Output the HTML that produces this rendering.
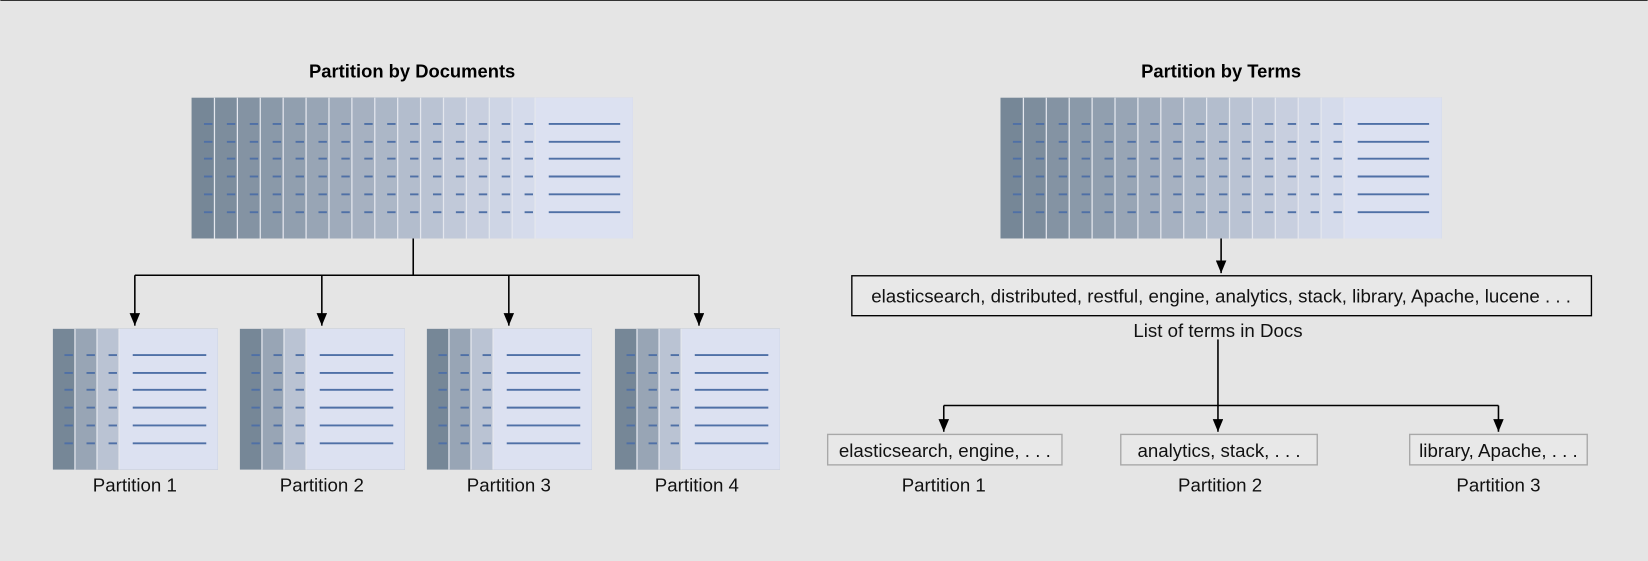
<!DOCTYPE html>
<html><head><meta charset="utf-8"><style>
html,body{margin:0;padding:0;background:#e5e5e5;}
svg{display:block;font-family:"Liberation Sans",Arial,sans-serif;}
</style></head><body>
<svg id="s" width="1648" height="561" viewBox="0 0 1568 534" xmlns="http://www.w3.org/2000/svg">
<defs>
<marker id="ad" markerWidth="10" markerHeight="12" refX="5" refY="12" orient="0" markerUnits="userSpaceOnUse" viewBox="0 0 10 12"><path d="M0,0 L10,0 L5,12 z" fill="#000"/></marker></defs>
<rect x="0" y="0" width="1568" height="534" fill="#e5e5e5"/>
<line x1="0" y1="0.5" x2="1568" y2="0.5" stroke="#333" stroke-width="1"/>
<g id="g"></g>
<text x="392" y="74" text-anchor="middle" font-size="17.5" font-weight="bold" fill="#000">Partition by Documents</text>
<text x="1162" y="74" text-anchor="middle" font-size="17.5" font-weight="bold" fill="#000">Partition by Terms</text>
<g stroke="#000" stroke-width="1.5" fill="none">
<path d="M393 227 V262 M128 262 H665"/>
<path d="M128 262 V310" marker-end="url(#ad)"/>
<path d="M306 262 V310" marker-end="url(#ad)"/>
<path d="M484 262 V310" marker-end="url(#ad)"/>
<path d="M665 262 V310" marker-end="url(#ad)"/>
<path d="M1162 227 V260" marker-end="url(#ad)"/>
<path d="M1159 323 V386 M898 386 H1426"/>
<path d="M898 386 V411" marker-end="url(#ad)"/>
<path d="M1159 386 V411" marker-end="url(#ad)"/>
<path d="M1426 386 V411" marker-end="url(#ad)"/>
</g>
<rect x="810.5" y="262.5" width="704" height="38" fill="#e8e8e8" stroke="#000" stroke-width="1.3"/>
<text x="1162" y="288" text-anchor="middle" font-size="17.8" fill="#111">elasticsearch, distributed, restful, engine, analytics, stack, library, Apache, lucene . . .</text>
<text x="1159" y="321" text-anchor="middle" font-size="17.8" fill="#111">List of terms in Docs</text>
<g fill="#e8e8e8" stroke="#a8a8a8" stroke-width="1.3">
<rect x="787.5" y="413.5" width="223" height="29"/>
<rect x="1066.5" y="413.5" width="187" height="29"/>
<rect x="1341.5" y="413.5" width="169" height="29"/>
</g>
<g font-size="17.8" fill="#111" text-anchor="middle">
<text x="899" y="435">elasticsearch, engine, . . .</text>
<text x="1160" y="435">analytics, stack, . . .</text>
<text x="1426" y="435">library, Apache, . . .</text>
<text x="898" y="468">Partition 1</text>
<text x="1161" y="468">Partition 2</text>
<text x="1426" y="468">Partition 3</text>
<text x="128" y="468">Partition 1</text>
<text x="306" y="468">Partition 2</text>
<text x="484" y="468">Partition 3</text>
<text x="663" y="468">Partition 4</text>
</g>
</svg>
<script>
var g=document.getElementById('g'),ns='http://www.w3.org/2000/svg';
function el(t,a){var e=document.createElementNS(ns,t);for(var k in a)e.setAttribute(k,a[k]);g.appendChild(e);}
var rows=[118,135,151,168,185,202];
function lerp(a,b,t){return Math.round(a+(b-a)*t);}
function col(t){return 'rgb('+lerp(0x76,0xdc,t)+','+lerp(0x87,0xe1,t)+','+lerp(0x97,0xf1,t)+')';}
function stack(x0,y0,w,h,n,d,ry,lineL,lineR){
 for(var i=0;i<=n;i++){
  var x=x0+i*d,t=i/n;
  el('rect',{x:x,y:y0,width:x0+w-x,height:h,fill:col(t)});
  if(i>0)el('line',{x1:x,y1:y0,x2:x,y2:y0+h,stroke:'#e4e7ee','stroke-width':1.2});
  if(i<n){for(var r=0;r<ry.length;r++)el('line',{x1:x+d-10,y1:ry[r],x2:x+d-2,y2:ry[r],stroke:'#4f70a6','stroke-width':1.8});}
  else{for(var r=0;r<ry.length;r++)el('line',{x1:x+lineL,y1:ry[r],x2:x0+w-lineR,y2:ry[r],stroke:'#4f70a6','stroke-width':1.8});}
 }
}
stack(182,93,420,134,15,21.8,rows,13,12);
stack(952,93,420,134,15,21.8,rows,13,12);
var r2=[338,355,371,388,405,422];
[50,228,406,585].forEach(function(x){stack(x,313,157,134,3,21,r2,13,11);});
</script>
</body></html>
